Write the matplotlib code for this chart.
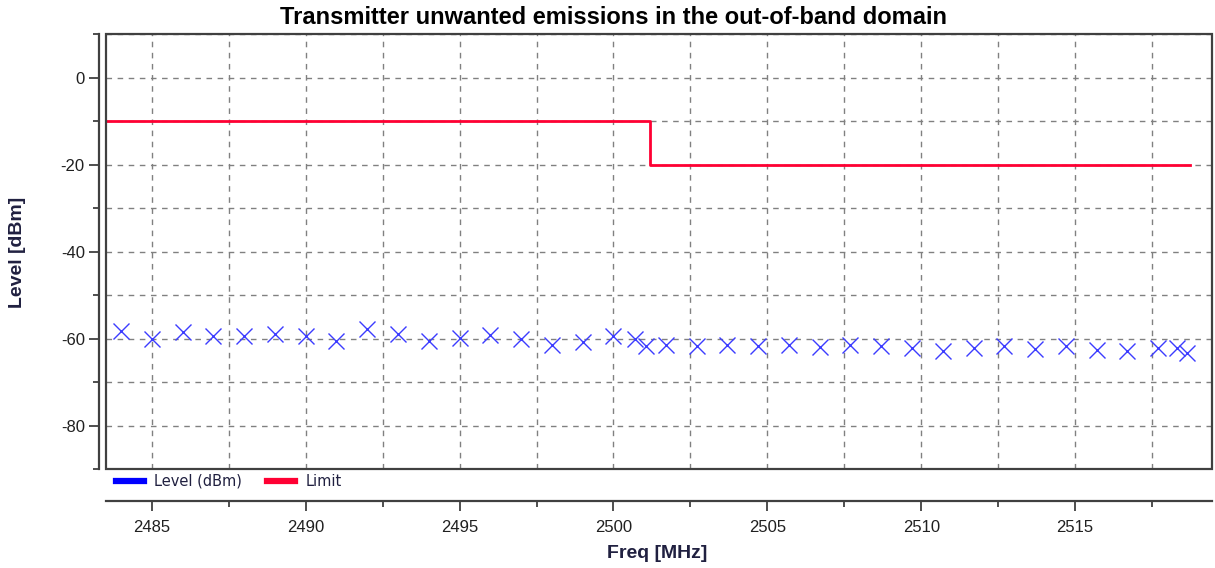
import matplotlib
matplotlib.use("Agg")
import matplotlib.pyplot as plt
from matplotlib.lines import Line2D
from matplotlib.patches import Rectangle
from matplotlib.ticker import MultipleLocator, FixedLocator

plt.rcParams["axes.unicode_minus"] = False

# ---- data ----
freq_mhz = [2484, 2485, 2486, 2487, 2488, 2489, 2490, 2491, 2492, 2493,
            2494, 2495, 2496, 2497, 2498, 2499, 2500, 2500.7, 2501.05, 2501.7,
            2502.7, 2503.7, 2504.7, 2505.7, 2506.7, 2507.7, 2508.7, 2509.7,
            2510.7, 2511.7, 2512.7, 2513.7, 2514.7, 2515.7, 2516.7, 2517.7,
            2518.3, 2518.65]
level_dbm = [-58.3, -60.1, -58.5, -59.3, -59.5, -58.9, -59.3, -60.5, -57.7, -58.9,
             -60.5, -59.8, -59.1, -60.0, -61.5, -60.8, -59.4, -60.2, -61.8, -61.4,
             -61.8, -61.4, -61.8, -61.5, -61.9, -61.5, -61.8, -62.1,
             -62.9, -62.1, -61.8, -62.5, -61.8, -62.7, -62.8, -62.1,
             -62.1, -63.2]
limit_freq = [2483.5, 2501.2, 2501.2, 2518.75]
limit_dbm = [-10, -10, -20, -20]
legend_labels = ["Level (dBm)", "Limit"]
title = "Transmitter unwanted emissions in the out-of-band domain"
xlabel = "Freq [MHz]"
ylabel = "Level [dBm]"

W, H = 1215, 568
fig = plt.figure(figsize=(W / 100, H / 100), dpi=100)
ax = fig.add_axes([105.7 / W, 1 - 469 / H, (1212 - 105.7) / W, (469 - 34.3) / H])

tick_font = ["Liberation Sans Narrow", "Liberation Sans", "DejaVu Sans"]
bold_font = ["Liberation Sans", "DejaVu Sans"]
spine_col = "#404040"

ax.set_xlim(2483.5, 2519.45)
ax.set_ylim(-90, 10)

# grid
ax.xaxis.set_major_locator(MultipleLocator(5))
ax.xaxis.set_minor_locator(FixedLocator([2487.5, 2492.5, 2497.5, 2502.5, 2507.5, 2512.5, 2517.5]))
ax.yaxis.set_major_locator(MultipleLocator(20))
ax.yaxis.set_minor_locator(FixedLocator([10, -10, -30, -50, -70, -90]))
ax.grid(True, which="both", color="#808080", linestyle=(0, (4, 4)), linewidth=1.0)

# data
ax.plot(limit_freq, limit_dbm, color="#ff0033", lw=2.0, zorder=3)
ax.plot(freq_mhz, level_dbm, linestyle="none", marker="x", markersize=11,
        markeredgewidth=1.0, color="#3c3cff", zorder=4)

# frame / separated axes
for s in ["top", "right"]:
    ax.spines[s].set_visible(False)
ax.spines["left"].set_position(("outward", 5))
ax.spines["bottom"].set_position(("outward", 22.8))
for s in ["left", "bottom"]:
    ax.spines[s].set_color(spine_col)
    ax.spines[s].set_linewidth(1.6)
ax.add_patch(Rectangle((0, 0), 1, 1, transform=ax.transAxes, fill=False,
                       edgecolor=spine_col, lw=1.6, clip_on=False, zorder=5))

ax.tick_params(axis="both", which="major", length=7, width=1.3, color=spine_col,
               labelsize=12, labelcolor="#202020")
ax.tick_params(axis="x", which="major", pad=7)
ax.tick_params(axis="y", which="major", pad=3)
ax.tick_params(axis="both", which="minor", length=4, width=1.3, color=spine_col)
for lab in ax.get_xticklabels() + ax.get_yticklabels():
    lab.set_family(tick_font)

# legend
handles = [Line2D([], [], color="#0000ff", lw=4.5),
           Line2D([], [], color="#ff0033", lw=4.5)]
leg = ax.legend(handles, legend_labels, loc="center left",
                bbox_to_anchor=(0.0, -0.028), ncol=2, frameon=False,
                handlelength=1.9, handletextpad=0.7, columnspacing=1.75,
                prop={"family": "DejaVu Sans", "size": 10.5}, borderaxespad=0.3)
for t in leg.get_texts():
    t.set_color("#202040")

fig.text(614 / W, 1 - 18 / H, title, ha="center", va="center",
         fontsize=17, fontweight="bold", family=bold_font)
fig.text(657 / W, 1 - 553 / H, xlabel, ha="center", va="center",
         fontsize=14, fontweight="bold", family=bold_font, color="#202040")
fig.text(18 / W, 1 - 252 / H, ylabel, ha="center", va="center", rotation=90,
         fontsize=14, fontweight="bold", family=bold_font, color="#202040")

fig.savefig("out.png", dpi=100)
